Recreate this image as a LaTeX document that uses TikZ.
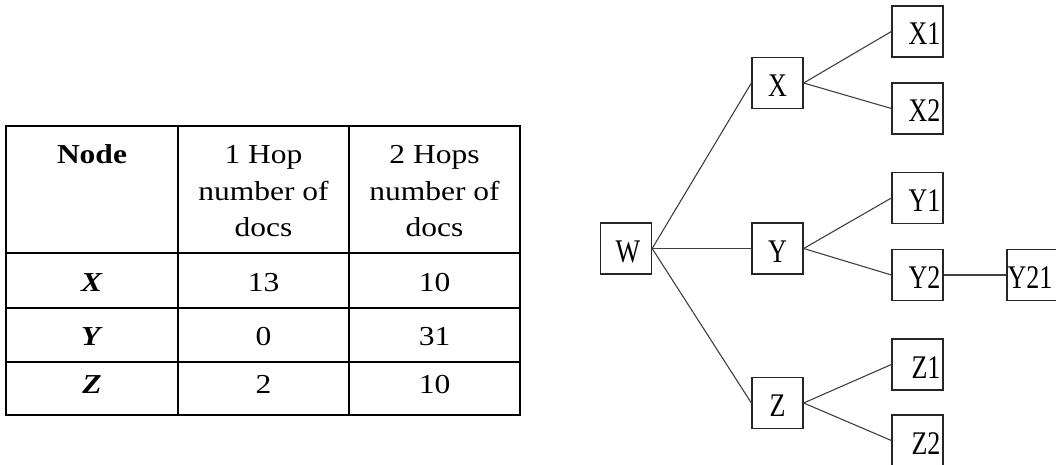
\documentclass[tikz,border=0pt]{standalone}
\usepackage{fontspec}
\setmainfont{Liberation Serif}
\usepackage{graphicx}
\newcommand{\tabtxt}[1]{\scalebox{1}[0.87]{#1}}
\newcommand{\treetxt}[1]{\scalebox{1}[1.27]{#1}}
\begin{document}
\begin{tikzpicture}[x=1pt,y=-1pt,
  tline/.style={line width=2pt,black},
  tcell/.style={inner sep=0pt,anchor=base,font=\fontsize{31.5}{36}\selectfont},
  tbox/.style={draw=black!85,line width=1.3pt,minimum width=51pt,minimum height=51pt,inner sep=0pt},
  tlab/.style={inner sep=0pt,font=\fontsize{26}{30}\selectfont},
  edge/.style={draw=black!75,line width=1.1pt}]
\useasboundingbox (0,0) rectangle (1056,465);

% ---------- table ----------
\draw[tline] (6,125.7) rectangle (520,415);
\draw[tline] (178,125.7) -- (178,415);
\draw[tline] (349,125.7) -- (349,415);
\draw[tline] (6,253.3) -- (520,253.3);
\draw[tline] (6,308.3) -- (520,308.3);
\draw[tline] (6,361.7) -- (520,361.7);

\node[tcell] (hNode) at (92,163.3) {\tabtxt{\textbf{Node}}};
\node[tcell] (h1a) at (263.5,163.3) {\tabtxt{1 Hop}};
\node[tcell] (h1b) at (263.5,200.3) {\tabtxt{number of}};
\node[tcell] (h1c) at (263.5,236.7) {\tabtxt{docs}};
\node[tcell] (h2a) at (434.5,163.3) {\tabtxt{2 Hops}};
\node[tcell] (h2b) at (434.5,200.3) {\tabtxt{number of}};
\node[tcell] (h2c) at (434.5,236.7) {\tabtxt{docs}};

\node[tcell] (rX) at (92,291.7) {\tabtxt{\textbf{\textit{X}}}};
\node[tcell] (rX1) at (263.5,291.7) {\tabtxt{13}};
\node[tcell] (rX2) at (434.5,291.7) {\tabtxt{10}};
\node[tcell] (rY) at (92,345) {\tabtxt{\textbf{\textit{Y}}}};
\node[tcell] (rY1) at (263.5,345) {\tabtxt{0}};
\node[tcell] (rY2) at (434.5,345) {\tabtxt{31}};
\node[tcell] (rZ) at (92,393.3) {\tabtxt{\textbf{\textit{Z}}}};
\node[tcell] (rZ1) at (263.5,393.3) {\tabtxt{2}};
\node[tcell] (rZ2) at (434.5,393.3) {\tabtxt{10}};

% ---------- tree ----------
\node[tbox] (W) at (626,248.5) {};
\node[tbox] (X) at (777.5,83) {};
\node[tbox] (Y) at (777.5,248.5) {};
\node[tbox] (Z) at (777.5,403) {};
\node[tbox] (X1) at (917.5,31.5) {};
\node[tbox] (X2) at (917.5,108.5) {};
\node[tbox] (Y1) at (917.5,198) {};
\node[tbox] (Y2) at (917.5,275) {};
\node[tbox] (Z1) at (917.5,364.5) {};
\node[tbox] (Z2) at (917.5,440.5) {};
\node[tbox] (Y21) at (1032.5,275) {};

\node[tlab,anchor=base] (Wl) at ([xshift=2pt,yshift=-13.5pt]W.center) {\treetxt{W}};
\node[tlab,anchor=base] (Xl) at ([yshift=-13.5pt]X.center) {\treetxt{X}};
\node[tlab,anchor=base] (Yl) at ([yshift=-13.5pt]Y.center) {\treetxt{Y}};
\node[tlab,anchor=base] (Zl) at ([yshift=-13.5pt]Z.center) {\treetxt{Z}};
\node[tlab,anchor=base east] (X1l) at ([xshift=-3pt,yshift=-13.5pt]X1.east) {\treetxt{X1}};
\node[tlab,anchor=base east] (X2l) at ([xshift=-3pt,yshift=-13.5pt]X2.east) {\treetxt{X2}};
\node[tlab,anchor=base east] (Y1l) at ([xshift=-3pt,yshift=-13.5pt]Y1.east) {\treetxt{Y1}};
\node[tlab,anchor=base east] (Y2l) at ([xshift=-3pt,yshift=-13.5pt]Y2.east) {\treetxt{Y2}};
\node[tlab,anchor=base east] (Z1l) at ([xshift=-3pt,yshift=-13.5pt]Z1.east) {\treetxt{Z1}};
\node[tlab,anchor=base east] (Z2l) at ([xshift=-3pt,yshift=-13.5pt]Z2.east) {\treetxt{Z2}};
\node[tlab,anchor=base west] (Y21l) at ([xshift=1pt,yshift=-13.5pt]Y21.west) {\treetxt{Y21}};

\draw[edge] (W.east) -- (X.west);
\draw[edge] (W.east) -- (Y.west);
\draw[edge] (W.east) -- (Z.west);
\draw[edge] (X.east) -- (X1.west);
\draw[edge] (X.east) -- (X2.west);
\draw[edge] (Y.east) -- (Y1.west);
\draw[edge] (Y.east) -- (Y2.west);
\draw[edge] (Z.east) -- (Z1.west);
\draw[edge] (Z.east) -- (Z2.west);
\draw[edge] (Y2.east) -- (Y21.west);
\end{tikzpicture}
\end{document}
